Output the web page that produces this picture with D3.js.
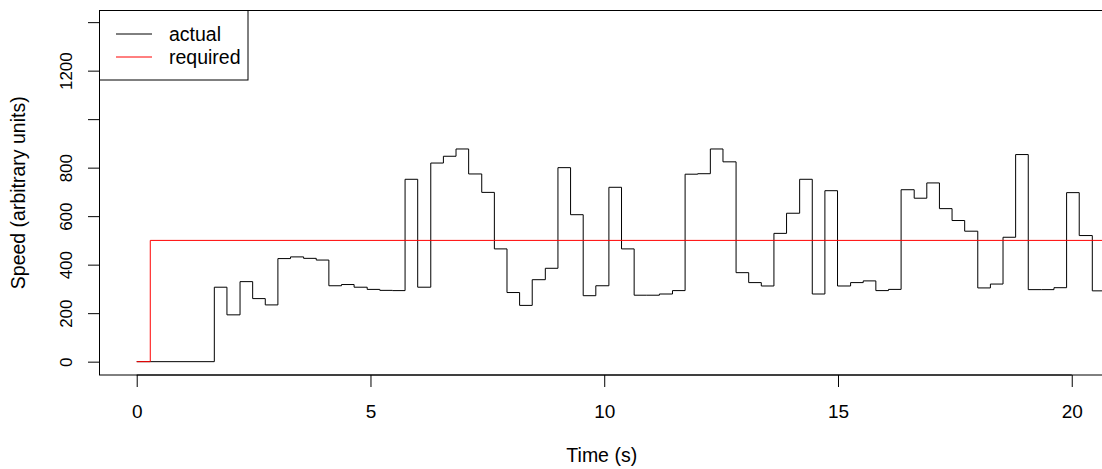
<!DOCTYPE html>
<html>
<head>
<meta charset="utf-8">
<script src="https://cdn.jsdelivr.net/npm/d3@7"></script>
<style>
  html, body { margin: 0; padding: 0; background: #fff; }
  svg { display: block; }
  text { font-family: "Liberation Sans", Arial, Helvetica, sans-serif; fill: #000; }
</style>
</head>
<body>
<svg id="chart" width="1102" height="469"></svg>
<script>
// ---- data ----
const actualTime = [0, 1.66, 1.93, 2.21, 2.48, 2.75, 3.02, 3.29, 3.57, 3.84, 4.11, 4.38, 4.65, 4.93, 5.20, 5.47,
  5.74, 6.01, 6.29, 6.56, 6.83, 7.10, 7.38, 7.65, 7.92, 8.19, 8.46, 8.74, 9.01, 9.28, 9.55,
  9.82, 10.10, 10.37, 10.64, 10.91, 11.18, 11.46, 11.73, 12.00, 12.27, 12.54, 12.82, 13.09, 13.36, 13.63,
  13.90, 14.18, 14.45, 14.72, 14.99, 15.27, 15.54, 15.81, 16.08, 16.35, 16.63, 16.90, 17.17, 17.44, 17.71,
  17.99, 18.26, 18.53, 18.80, 19.07, 19.35, 19.62, 19.89, 20.16, 20.44, 20.75];
const actualSpeed = [0, 307, 193, 330, 260, 234, 425, 432, 426, 419, 313, 318, 307, 298, 294, 293,
  752, 307, 819, 847, 877, 774, 698, 465, 285, 232, 338, 385, 800, 606, 272,
  313, 719, 465, 274, 274, 279, 293, 773, 775, 877, 824, 367, 326, 312, 529,
  612, 752, 279, 705, 312, 326, 333, 293, 298, 709, 674, 737, 631, 582, 538,
  304, 320, 513, 854, 297, 297, 305, 697, 520, 292, 292];
const requiredTime = [0, 0.29, 20.75];
const requiredSpeed = [0, 500, 500];
const xTicks = [0, 5, 10, 15, 20];
const yTicks = [0, 200, 400, 600, 800, 1000, 1200, 1400];
const yTickLabels = ["0", "200", "400", "600", "800", "", "1200", ""];
const seriesNames = ["actual", "required"];
const seriesColors = ["#000000", "#ff0000"];

// ---- layout ----
const svg = d3.select("#chart");
const L = 99.5, R = 1104, T = 10.5, B = 375;
const x = d3.scaleLinear().domain([-0.796, 20.69]).range([L, R]);
const y = d3.scaleLinear().domain([-55, 1448]).range([B, T]);

svg.append("defs").append("clipPath").attr("id", "plotclip")
  .append("rect").attr("x", L).attr("y", T).attr("width", R - L).attr("height", B - T);

const line = d3.line().x(d => x(d[0])).y(d => y(d[1])).curve(d3.curveStepAfter);

const g = svg.append("g").attr("clip-path", "url(#plotclip)");
g.append("path")
  .datum(actualTime.map((t, i) => [t, actualSpeed[i]]))
  .attr("fill", "none").attr("stroke", seriesColors[0]).attr("stroke-width", 1)
  .attr("d", line);
g.append("path")
  .datum(requiredTime.map((t, i) => [t, requiredSpeed[i]]))
  .attr("fill", "none").attr("stroke", seriesColors[1]).attr("stroke-width", 1)
  .attr("d", line);

// box
svg.append("rect").attr("x", L).attr("y", T).attr("width", R - L).attr("height", B - T)
  .attr("fill", "none").attr("stroke", "#000").attr("stroke-width", 1);

// x axis
const xAxis = d3.axisBottom(x).tickValues(xTicks).tickSize(12).tickFormat(d3.format("d"));
const xg = svg.append("g").attr("transform", `translate(0,${B})`).call(xAxis);
xg.select(".domain").attr("d", `M${x(0)},0H${x(20)}`);
xg.selectAll("text").attr("font-size", 19).attr("y", 42.5).attr("dy", null)
  .attr("font-family", "Liberation Sans, Arial, sans-serif");

// y axis
const yAxis = d3.axisLeft(y).tickValues(yTicks).tickSize(11.5).tickPadding(0)
  .tickFormat((d, i) => yTickLabels[i]);
const yg = svg.append("g").attr("transform", `translate(${L},0)`).call(yAxis);
yg.select(".domain").attr("d", `M0,${y(0)}V${y(1400)}`);
yg.selectAll("text")
  .attr("font-size", 17).attr("font-family", "Liberation Sans, Arial, sans-serif")
  .attr("text-anchor", "middle").attr("dy", null).attr("x", null)
  .attr("transform", `translate(-33,0) rotate(-90)`)
  .attr("dominant-baseline", "central");

// axis titles
svg.append("text").attr("x", (L + R) / 2).attr("y", 462)
  .attr("text-anchor", "middle").attr("font-size", 19.5).text("Time (s)");
svg.append("text").attr("transform", `translate(25,${(T + B) / 2}) rotate(-90)`)
  .attr("text-anchor", "middle").attr("font-size", 19.5).text("Speed (arbitrary units)");

// legend
const lg = svg.append("g");
lg.append("rect").attr("x", L).attr("y", T).attr("width", 148.5).attr("height", 69.5)
  .attr("fill", "#fff").attr("stroke", "#000").attr("stroke-width", 1);
const legendY = [34, 57];
seriesNames.forEach((name, i) => {
  lg.append("line").attr("x1", 116).attr("x2", 152).attr("y1", legendY[i]).attr("y2", legendY[i])
    .attr("stroke", seriesColors[i]).attr("stroke-width", 1);
  lg.append("text").attr("x", 169).attr("y", legendY[i]).attr("dy", "0.35em")
    .attr("font-size", 19.5).text(name);
});
</script>
</body>
</html>
